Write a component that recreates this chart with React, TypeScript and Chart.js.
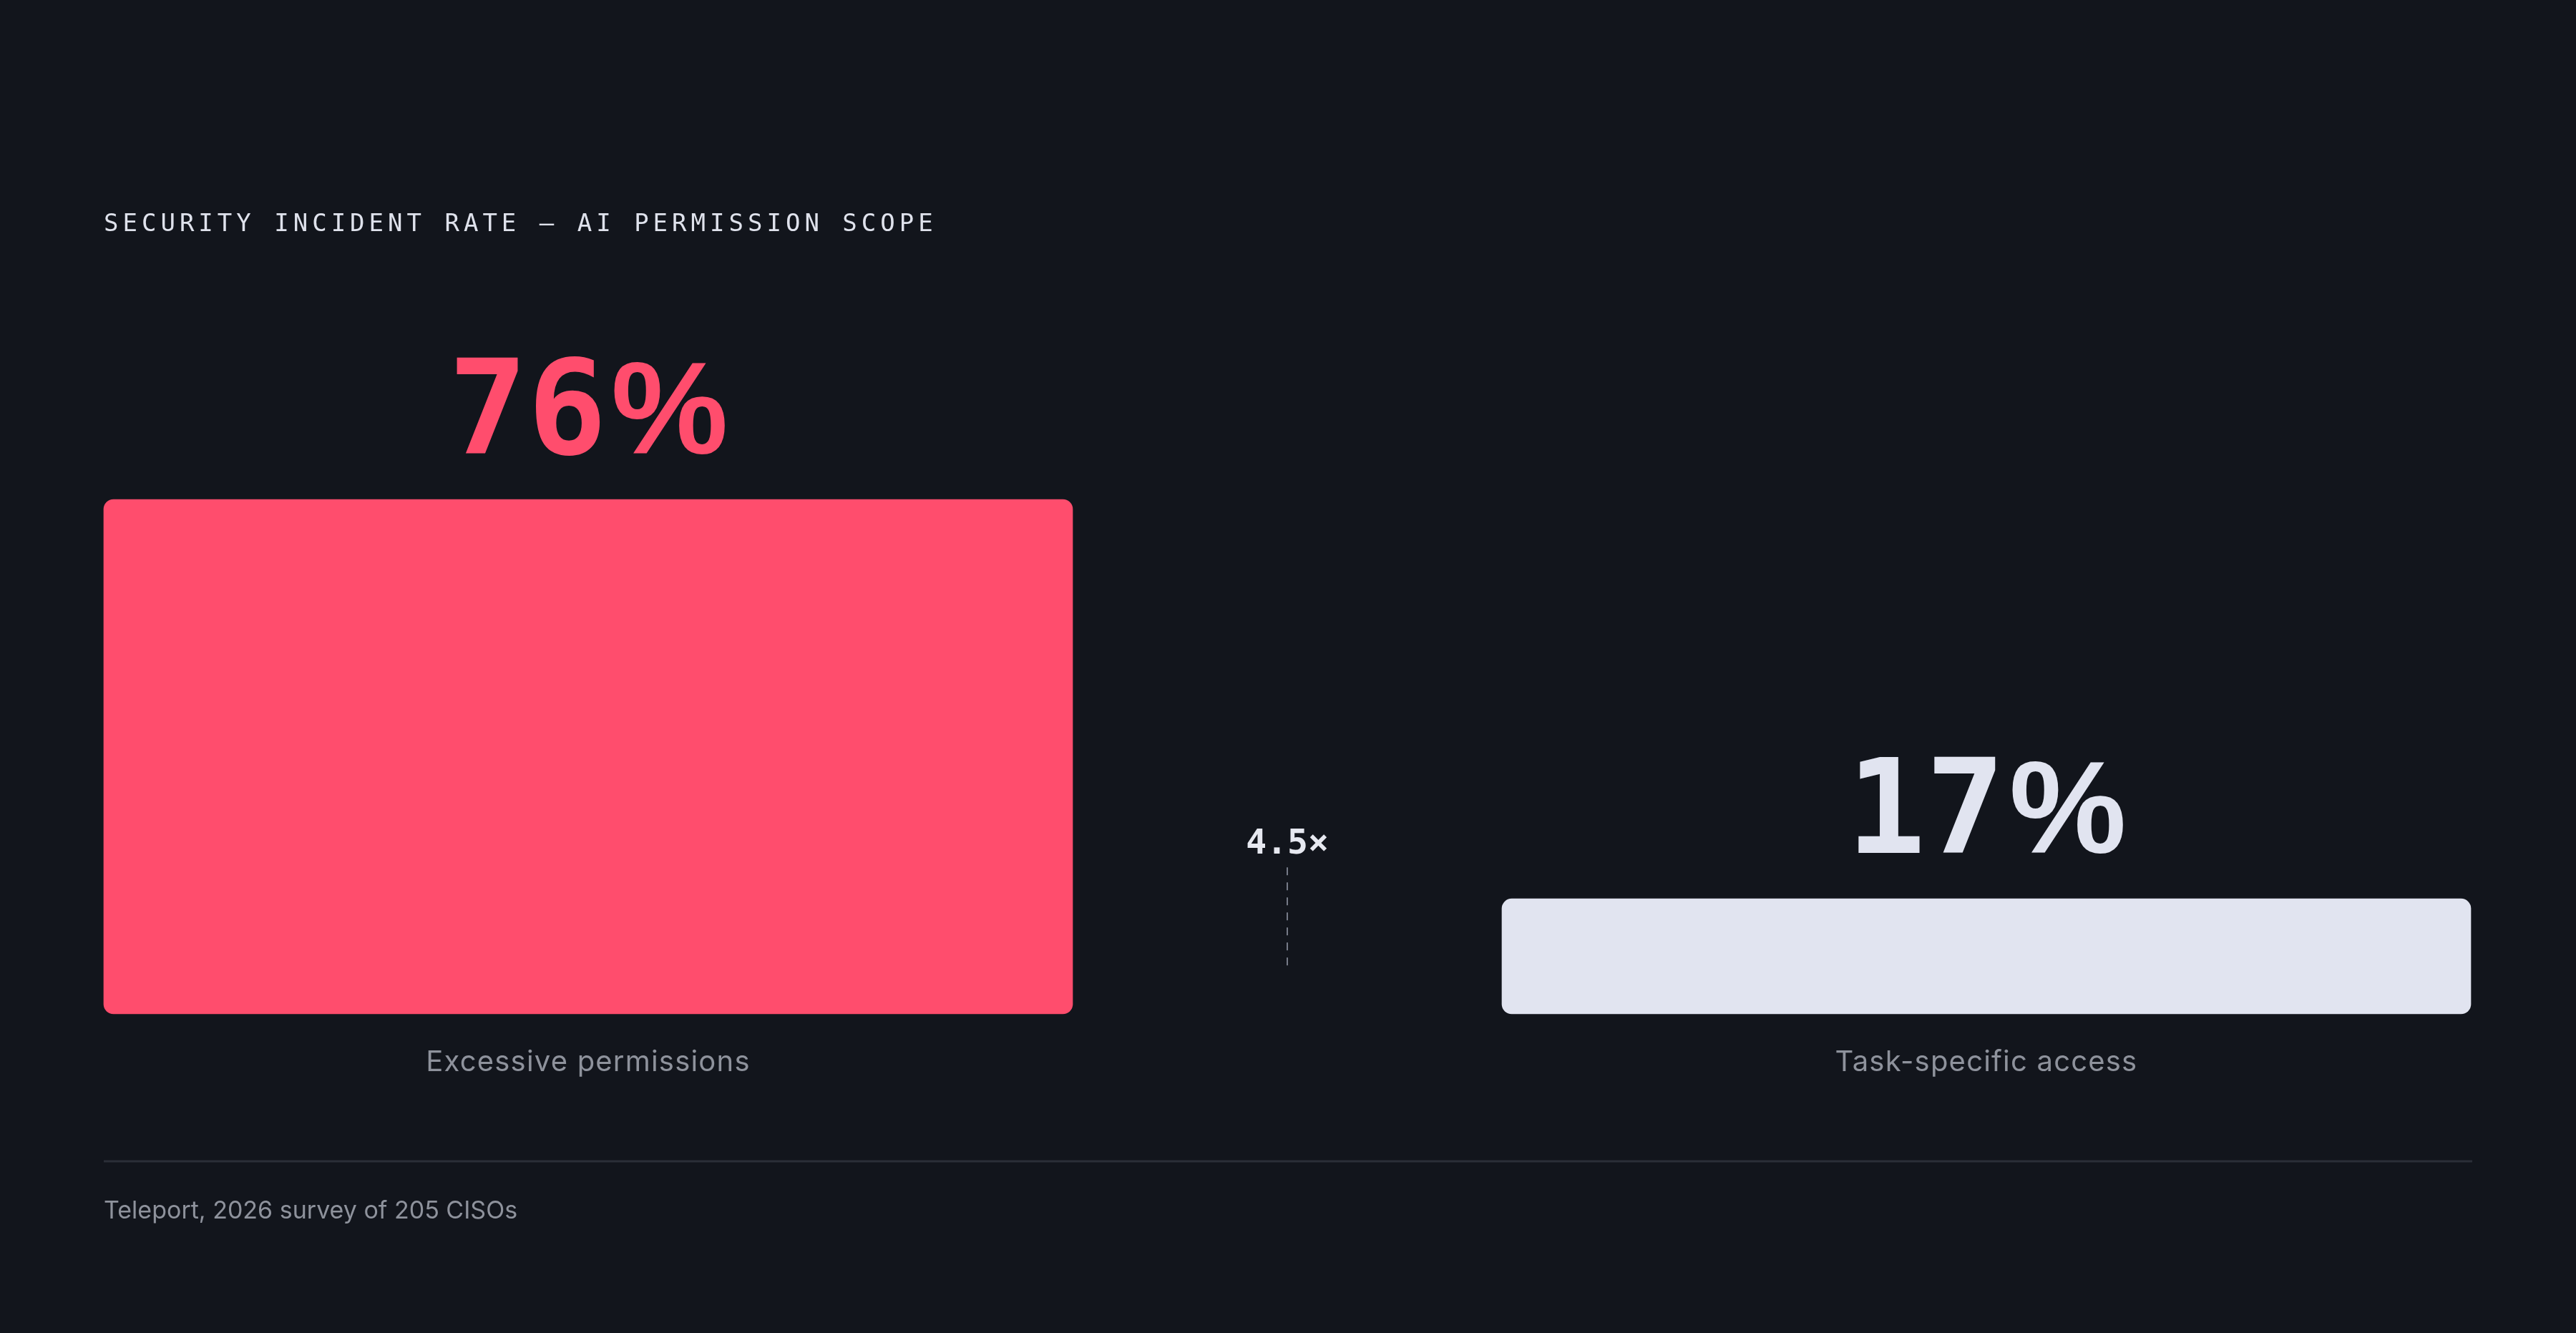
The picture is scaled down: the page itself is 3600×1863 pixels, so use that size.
import { useEffect, useRef } from "react";
import { Chart, registerables } from "chart.js";

Chart.register(...registerables);

// data
const categories = ["Excessive permissions", "", "Task-specific access"];
const rates = [76, null, 17];
const valueLabels = ["76%", "", "17%"];
const barColors = ["#ff4d6d", "rgba(0,0,0,0)", "#e1e4f0"];
const ratioLabel = "4.5×";
const title = "SECURITY INCIDENT RATE — AI PERMISSION SCOPE";
const source = "Teleport, 2026 survey of 205 CISOs";

const BG = "#12151c";
const MARGIN_X = 145;
const NUM_FONT = 'bold 184px "DejaVu Sans Mono"';
const PCT_FONT = 'bold 184px "Liberation Sans"';

const overlay = {
  id: "overlay",
  afterDraw(chart: Chart) {
    const { ctx, width } = chart;
    const x = chart.scales.x;
    const y = chart.scales.y;
    const base = y.getPixelForValue(0);
    ctx.save();

    // title
    ctx.fillStyle = "#dfe2ec";
    ctx.font = '34px "DejaVu Sans Mono"';
    (ctx as any).letterSpacing = "6px";
    ctx.textAlign = "left";
    ctx.textBaseline = "alphabetic";
    ctx.fillText(title, MARGIN_X, 323);
    (ctx as any).letterSpacing = "0px";

    // values above bars + category labels
    rates.forEach((v, i) => {
      const cx = x.getPixelForValue(i);
      if (v === null) return;
      const label = valueLabels[i];
      const num = label.replace("%", "");
      const top = y.getPixelForValue(v) - 64;
      ctx.font = NUM_FONT;
      const numW = ctx.measureText(num).width;
      ctx.font = PCT_FONT;
      const pctW = ctx.measureText("%").width;
      const gap = 6;
      let left = cx - (numW + gap + pctW) / 2;
      ctx.textAlign = "left";
      ctx.fillStyle = barColors[i];
      ctx.font = NUM_FONT;
      ctx.fillText(num, left, top);
      left += numW + gap;
      ctx.font = PCT_FONT;
      ctx.fillText("%", left, top);

      ctx.textAlign = "center";
      ctx.fillStyle = "#8e929c";
      ctx.font = '40px "Inter"';
      (ctx as any).letterSpacing = "1.2px";
      ctx.fillText(categories[i], cx, base + 80);
      (ctx as any).letterSpacing = "0px";
    });

    // ratio marker between bars
    const mx = x.getPixelForValue(1);
    const lowY = y.getPixelForValue(17);
    ctx.textAlign = "center";
    ctx.fillStyle = "#e6e8f0";
    ctx.font = 'bold 48px "DejaVu Sans Mono"';
    ctx.fillText(ratioLabel, mx, lowY - 63);
    ctx.strokeStyle = "#767b88";
    ctx.lineWidth = 2;
    ctx.setLineDash([11, 10]);
    ctx.beginPath();
    ctx.moveTo(mx, lowY - 44);
    ctx.lineTo(mx, base - 65);
    ctx.stroke();
    ctx.setLineDash([]);

    // divider and source
    ctx.strokeStyle = "#2a2e37";
    ctx.lineWidth = 3;
    ctx.beginPath();
    ctx.moveTo(MARGIN_X, base + 206);
    ctx.lineTo(width - MARGIN_X, base + 206);
    ctx.stroke();

    ctx.textAlign = "left";
    ctx.fillStyle = "#8e929c";
    ctx.font = '34px "Inter"';
    ctx.fillText(source, MARGIN_X, base + 286);
    ctx.restore();
  },
};

const IncidentChart = () => {
  const chartRef = useRef<HTMLCanvasElement | null>(null);
  const chartInstance = useRef<Chart<"bar"> | null>(null);

  useEffect(() => {
    document.body.style.margin = "0";
    document.body.style.background = BG;
    if (chartInstance.current) {
      chartInstance.current.destroy();
    }
    const myChartRef = chartRef.current?.getContext("2d");
    if (myChartRef) {
      chartInstance.current = new Chart(myChartRef, {
        type: "bar",
        data: {
          labels: categories,
          datasets: [
            {
              data: rates,
              backgroundColor: barColors,
              borderRadius: 14,
              borderSkipped: false,
              barThickness: 1354,
              clip: false,
            },
          ],
        },
        options: {
          animation: false,
          responsive: true,
          maintainAspectRatio: false,
          layout: { padding: { left: 822, right: 824, top: 471, bottom: 446 } },
          plugins: {
            legend: { display: false },
            tooltip: { enabled: false },
          },
          scales: {
            x: { display: false, offset: false },
            y: { display: false, min: 0, max: 100 },
          },
        },
        plugins: [overlay],
      });
    }
    return () => {
      if (chartInstance.current) {
        chartInstance.current.destroy();
        chartInstance.current = null;
      }
    };
  }, []);

  return (
    <div style={{ position: "fixed", left: 0, top: 0, width: 3600, height: 1863, background: BG }}>
      <canvas ref={chartRef} />
    </div>
  );
};

export default function App() {
  return <IncidentChart />;
}
